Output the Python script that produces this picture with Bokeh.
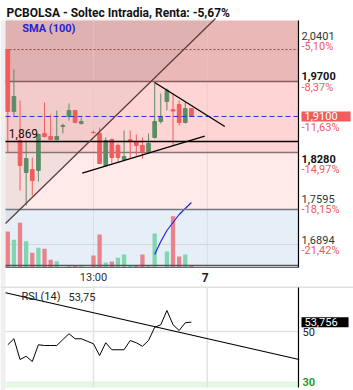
from bokeh.plotting import figure
from bokeh.models import Range1d, Label
from bokeh.layouts import column
from bokeh.embed import file_html
from bokeh.resources import INLINE

# ---------------- data ----------------
title_text = "PCBOLSA - Soltec Intradia, Renta: -5,67%"
idx = list(range(31))
opens = [2.0160, 1.9095, 1.8596, 1.8046, 1.8097, 1.8080, 1.8716, 1.8665, 1.8613, 1.8837,
         1.9009, 1.9112, 1.8888, None, 1.8734, 1.8716, 1.8166, 1.8613, 1.8510, 1.8269,
         1.8613, 1.8579, 1.8510, 1.8407, 1.8648, 1.8923, 1.9266, 1.9129, 1.9215, 1.8905, 1.9146]
highs = [2.0160, 1.9817, 1.9284, 1.8596, 1.8304, 1.8716, 1.9249, 1.9043, 1.9112, 1.8888,
         1.9232, 1.9112, 1.8991, None, 1.8768, 1.8819, 1.8648, 1.8630, 1.8544, 1.8768,
         1.8768, 1.8699, 1.8648, 1.8716, 1.9593, 1.9404, 1.9490, 1.9404, 1.9284, 1.9249, 1.9146]
lows = [1.8390, 1.9009, 1.7736, 1.7478, 1.7650, 1.7891, 1.8648, 1.8596, 1.8596, 1.8716,
        1.8940, 1.8905, 1.8871, None, 1.8716, 1.8201, 1.8149, 1.8201, 1.8235, 1.8252,
        1.8286, 1.8338, 1.8286, 1.8372, 1.8630, 1.8888, 1.9112, 1.8510, 1.8854, 1.8888, 1.9009]
closes = [1.9095, 1.9352, 1.8166, 1.8286, 1.7908, 1.8699, 1.8665, 1.8613, 1.8665, 1.8854,
          1.9112, 1.8905, 1.8923, None, 1.8730, 1.8201, 1.8596, 1.8304, 1.8304, 1.8321,
          1.8587, 1.8510, 1.8407, 1.8544, 1.8923, 1.9009, 1.9456, 1.9103, 1.8905, 1.9146, 1.9009]
volume_k = [36, 27.7, 44.7, 26.3, 14.7, 19.7, 18.7, 7.7, 6.3, 0, 1.5, 1.5, 1.5, 0, 12, 33,
            5, 6, 9.7, 13, 1.5, 1.5, 13, 1.5, 34, 0, 16, 51.3, 11, 13, 1.5]
volume_side = [-1, 1, -1, 1, -1, 1, -1, -1, 1, 1, 1, -1, 1, 1, -1, -1,
               1, -1, 1, 1, 1, -1, -1, 1, 1, 1, 1, -1, -1, 1, -1]
vol_sma_idx = [24, 25, 26, 27, 28, 29, 30]
vol_sma_k = [13, 26, 37, 45, 53, 59, 65]
rsi = [44.7, 47.1, 38.8, 40.1, 38.0, 44.7, 44.4, 44.4, 44.4, 46.8, 49.1, 47.1, 47.1, 46.1,
       45.1, 40.4, 45.5, 42.7, 42.7, 42.7, 46.4, 45.5, 44.1, 46.4, 51.7, 52.7, 58.4, 52.7,
       50.4, 53.5, 53.75]

zone_levels = [1.9610, 1.8390, 1.7410]
dotted_level = 2.0160
sma100_level = 1.9009
key_level = 1.8579
key_level_text = "1,869"
base_levels = [1.6808, 1.6447]

diag_x = [-0.376, 33.94]
diag_y = [1.7169, 2.0693]
res_x = [24.0, 35.46]
res_y = [1.9593, 1.8837]
sup_x = [12.16, 32.19]
sup_y = [1.8034, 1.8670]
rsi_tl_x = [-0.376, 47.6]
rsi_tl_y = [65.5, 38.8]

scale_prices = [2.0401, 1.9700, 1.8280, 1.7595, 1.6894]
scale_texts = ["2,0401", "1,9700", "1,8280", "1,7595", "1,6894"]
scale_pcts = ["-5,10%", "-8,37%", "-14,97%", "-18,15%", "-21,42%"]
strong_texts = ["1,9700", "1,8280"]
last_text = "1,9100"
last_pct = "-11,63%"
rsi_last_text = "53,756"
rsi_label = "RSI (14)"
rsi_value_text = "53,75"
time_ticks = [14, 32.6]
time_texts = ["13:00", "7"]

# ---------------- geometry / styles ----------------
FONT = "Roboto"
RED = "#f25c5c"
GREEN = "#5b8c66"
VRED = "#e8838c"
VGREEN = "#7fd6b0"
# whole canvas in data units
X_MIN, X_MAX = -1.193, 56.49
Y_MIN, Y_MAX = 1.6086, 2.1003
# price panel area
x0, x1 = -0.376, 47.5
y0, y1 = 1.6413, 2.0659

p = figure(width=353, height=286, x_range=Range1d(X_MIN, X_MAX), y_range=Range1d(Y_MIN, Y_MAX),
           output_backend="svg", toolbar_location=None, x_axis_location=None,
           y_axis_location=None, min_border=0)
p.extra_y_ranges = {"vol": Range1d(-19, 267)}
p.xgrid.visible = False
p.ygrid.visible = False
p.outline_line_color = None
p.background_fill_color = "white"
p.border_fill_color = "white"

# left margin strip
p.quad(left=X_MIN, right=x0, top=y1, bottom=Y_MIN, fill_color="#efefef", line_color=None)

# bands
edges = [y1] + zone_levels + [y0]
band_colors = ["#ebb8b8", "#ffd4d4", "#ffe9e9", "#e6eef8"]
p.quad(left=x0, right=x1, top=edges[:-1], bottom=edges[1:], fill_color=band_colors,
       line_color=None)
# grey overlay left of the long diagonal
p.patch(x=[x0, diag_x[1], x0], y=[diag_y[0], diag_y[1], diag_y[1]],
        fill_color="#606060", fill_alpha=0.08, line_color=None)
# grid
p.segment(x0=time_ticks, x1=time_ticks, y0=y0, y1=y1, line_color="#d0d0d0",
          line_alpha=0.6, line_width=1)
p.segment(x0=x0, x1=x1, y0=[base_levels[0]], y1=[base_levels[0]], line_color="#cfd6de",
          line_width=1)

# volume
vcol = [VGREEN if s > 0 else VRED for s in volume_side]
p.vbar(x=idx, top=volume_k, bottom=0, width=0.7, y_range_name="vol",
       fill_color=vcol, line_color=None)
p.line(vol_sma_idx, vol_sma_k, y_range_name="vol", line_color="#2525e0", line_width=1.2)

# level lines
p.segment(x0=x0, x1=x1, y0=[zone_levels[0]], y1=[zone_levels[0]], line_color="#8a5c5c", line_width=1.3)
p.segment(x0=x0, x1=x1, y0=[zone_levels[1]], y1=[zone_levels[1]], line_color="#8c7474", line_width=1.3)
p.segment(x0=x0, x1=x1, y0=[zone_levels[2]], y1=[zone_levels[2]], line_color="#707880", line_width=1.3)
p.segment(x0=x0, x1=x1, y0=[base_levels[1]], y1=[base_levels[1]], line_color="#555555", line_width=1.3)
p.segment(x0=x0, x1=x1, y0=[y0], y1=[y0], line_color="#666666", line_width=1)
p.segment(x0=x0, x1=x1, y0=[dotted_level], y1=[dotted_level], line_color="#8a4a4a",
          line_width=1, line_dash="2 2")

# candles
cx, co, ch, cl, cc, ccol = [], [], [], [], [], []
for i, o, h, l, c in zip(idx, opens, highs, lows, closes):
    if o is None:
        continue
    cx.append(i); co.append(o); ch.append(h); cl.append(l); cc.append(c)
    ccol.append(GREEN if c >= o else RED)
p.segment(x0=cx, x1=cx, y0=cl, y1=ch, line_color=ccol, line_width=1)
p.vbar(x=cx, top=[max(a, b) for a, b in zip(co, cc)], bottom=[min(a, b) for a, b in zip(co, cc)],
       width=0.6, fill_color=ccol, line_color=ccol, line_width=1)

p.segment(x0=x0, x1=x1, y0=[sma100_level], y1=[sma100_level], line_color="#3030e0",
          line_width=1, line_dash="5 3")
p.segment(x0=x0, x1=x1, y0=[key_level], y1=[key_level], line_color="black", line_width=1.6)

# trend lines
p.line(diag_x, diag_y, line_color="#5a3a3a", line_width=1.2)
p.line(res_x, res_y, line_color="black", line_width=1.3)
p.line(sup_x, sup_y, line_color="black", line_width=1.3)

# right scale line
p.segment(x0=[x1], x1=[x1], y0=[y0], y1=[y1], line_color="black", line_width=1.2)

# texts
p.add_layout(Label(x=x0, y=y1, x_offset=1, y_offset=8, text=title_text, text_font=FONT,
                   text_font_size="12px", text_font_style="bold", text_color="#111111",
                   text_baseline="middle"))
p.add_layout(Label(x=2.35, y=2.0516, text="SMA (100)", text_font=FONT, text_font_size="11px",
                   text_font_style="bold", text_color="#2323d8", text_baseline="middle"))
p.add_layout(Label(x=0.16, y=1.8711, text=key_level_text, text_font=FONT, text_font_size="12px",
                   text_color="#111111", text_baseline="middle"))
p.add_layout(Label(x=time_ticks[0], y=y0, y_offset=-10, text=time_texts[0], text_font=FONT,
                   text_font_size="11px", text_color="#333333",
                   text_align="center", text_baseline="middle"))
p.add_layout(Label(x=time_ticks[1], y=y0, x_offset=-2, y_offset=-10, text=time_texts[1],
                   text_font=FONT, text_font_size="12px", text_font_style="bold",
                   text_color="#222222", text_align="center", text_baseline="middle"))
for pr, t, pc in zip(scale_prices, scale_texts, scale_pcts):
    p.add_layout(Label(x=x1, y=pr, x_offset=3, text=t, text_font=FONT, text_font_size="11px",
                       text_font_style="bold" if t in strong_texts else "normal",
                       text_color="#111111" if t in strong_texts else "#333333",
                       text_baseline="middle"))
    p.add_layout(Label(x=x1, y=pr, x_offset=3, y_offset=-11, text=pc, text_font=FONT,
                       text_font_size="11px", text_color="#f05a5a", text_baseline="middle"))
p.add_layout(Label(x=x1, y=sma100_level, x_offset=3, y_offset=-11, text=last_pct, text_font=FONT,
                   text_font_size="11px", text_color="#f05a5a", text_baseline="middle"))
p.add_layout(Label(x=x1, y=closes[-1], x_offset=3, text=last_text, text_font=FONT,
                   text_font_size="11px", text_color="white", text_baseline="middle",
                   background_fill_color=RED,
                   padding=dict(left=3, right=13, top=1, bottom=1)))

# ---------------- RSI ----------------
R_MIN, R_MAX = 26.4, 68.0
r0, r1 = 27.6, 67.6
r = figure(width=353, height=104, x_range=p.x_range, y_range=Range1d(R_MIN, R_MAX),
           output_backend="svg", toolbar_location=None, x_axis_location=None,
           y_axis_location=None, min_border=0)
r.xgrid.visible = False
r.ygrid.visible = False
r.outline_line_color = None
r.background_fill_color = "white"
r.border_fill_color = "white"
r.quad(left=X_MIN, right=x0, top=R_MAX, bottom=R_MIN, fill_color="#efefef", line_color=None)
r.quad(left=x0, right=x1, bottom=r0, top=30, fill_color="#e2f8e2", line_color=None)
r.segment(x0=time_ticks, x1=time_ticks, y0=r0, y1=r1, line_color="#e3e3e3", line_width=1.5)
r.segment(x0=x0, x1=x1, y0=[50], y1=[50], line_color="#e3e3e3", line_width=1.5)
r.segment(x0=X_MIN, x1=X_MAX, y0=[67.8], y1=[67.8], line_color="#e0e0e0", line_width=2)
r.line(idx, rsi, line_color="black", line_width=1)
r.line(rsi_tl_x, rsi_tl_y, line_color="black", line_width=1.2)
r.segment(x0=[x1], x1=[x1], y0=[r0], y1=[r1], line_color="black", line_width=1.2)
r.add_layout(Label(x=2.24, y=64.0, text=rsi_label, text_font=FONT, text_font_size="11px",
                   text_color="#222222", text_baseline="middle"))
r.add_layout(Label(x=9.92, y=64.0, text=rsi_value_text, text_font=FONT, text_font_size="11px",
                   text_color="#222222", text_baseline="middle"))
r.add_layout(Label(x=x1, y=30, x_offset=4, text="30", text_font=FONT, text_font_size="11px",
                   text_font_style="bold", text_color="#2a9a2a", text_baseline="middle"))
r.add_layout(Label(x=x1, y=50, x_offset=4, text="50", text_font=FONT, text_font_size="11px",
                   text_color="#222222", text_baseline="middle"))
r.add_layout(Label(x=x1, y=rsi[-1], x_offset=3, text=rsi_last_text, text_font=FONT,
                   text_font_size="11px", text_color="white", text_baseline="middle",
                   background_fill_color="black",
                   padding=dict(left=3, right=11, top=1, bottom=1)))

layout = column(p, r, spacing=0)
open("out.html", "w").write(file_html(layout, INLINE))
